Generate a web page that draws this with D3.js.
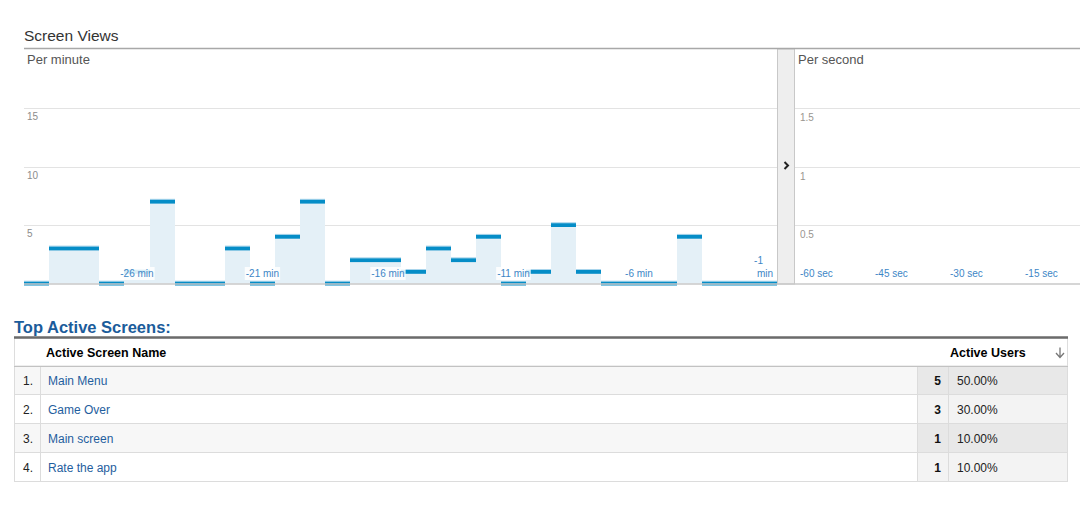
<!DOCTYPE html>
<html><head><meta charset="utf-8">
<script src="https://cdn.jsdelivr.net/npm/d3@7"></script>
<style>
body{margin:0;background:#fff}
svg{display:block;font-family:"Liberation Sans",Arial,Helvetica,sans-serif}
</style>
</head><body>
<svg id="c" width="1080" height="512"></svg>
<script>
// ---------- data ----------
const minuteLabels = ["-30 min","-29 min","-28 min","-27 min","-26 min","-25 min","-24 min","-23 min","-22 min","-21 min",
  "-20 min","-19 min","-18 min","-17 min","-16 min","-15 min","-14 min","-13 min","-12 min","-11 min",
  "-10 min","-9 min","-8 min","-7 min","-6 min","-5 min","-4 min","-3 min","-2 min","-1 min"];
const minuteValues = [0,3,3,0,1,7,0,0,3,0,4,7,0,2,2,1,3,2,4,0,1,5,1,0,0,0,4,0,0,0];
const minuteTickLabels = ["-26 min","-21 min","-16 min","-11 min","-6 min"];
const minuteLastLabel = "-1 min";
const minuteYTicks = [5,10,15];
const secondYTicks = [0.5,1,1.5];
const secondTickValues = [-60,-45,-30,-15];
const secondTickLabels = ["-60 sec","-45 sec","-30 sec","-15 sec"];
const screenNames = ["Main Menu","Game Over","Main screen","Rate the app"];
const activeUsers = [5,3,1,1];

// ---------- drawing ----------
const svg = d3.select("#c");
const BLUE = "#058dc7", FILL = "#e4f0f7", AXISBLUE = "#3d86c6";

svg.append("text").attr("x",24).attr("y",41).attr("fill","#333")
  .style("font-size","15.5px").text("Screen Views");

// per-minute panel
const x = d3.scaleBand().domain(minuteLabels).range([24,777]).padding(0);
const y = d3.scaleLinear().domain([0,15]).range([283.5,108]);
const bw = x.bandwidth();
const bx = d => Math.round(x(d));
const bW = d => Math.round(x(d)+bw) - Math.round(x(d));

svg.append("text").attr("x",27).attr("y",64).attr("fill","#555")
  .style("font-size","13px").text("Per minute");

const gM = svg.append("g");
gM.selectAll("line.grid").data(minuteYTicks).join("line")
  .attr("x1",24).attr("x2",777)
  .attr("y1",d=>Math.round(y(d))+0.5).attr("y2",d=>Math.round(y(d))+0.5)
  .attr("stroke","#e3e3e3");
gM.selectAll("text.yl").data(minuteYTicks).join("text")
  .attr("x",27).attr("y",d=>y(d)+12).attr("fill","#8c8c8c")
  .style("font-size","10px").text(d=>d);

const fills = gM.append("g"), caps = gM.append("g");
fills.selectAll("rect").data(minuteValues).join("rect")
  .attr("x",(d,i)=>bx(minuteLabels[i])).attr("width",(d,i)=>bW(minuteLabels[i]))
  .attr("y",d=>y(d)).attr("height",d=>y(0)-y(d)).attr("fill",FILL);
caps.selectAll("rect.hl").data(minuteValues).join("rect").attr("class","hl")
  .attr("x",(d,i)=>bx(minuteLabels[i])).attr("width",(d,i)=>bW(minuteLabels[i]))
  .attr("y",d=>y(d)-2.8).attr("height",1).attr("fill","#a9d5ec");
caps.selectAll("rect.cap").data(minuteValues).join("rect").attr("class","cap")
  .attr("x",(d,i)=>bx(minuteLabels[i])).attr("width",(d,i)=>bW(minuteLabels[i]))
  .attr("y",d=>y(d)-1.8).attr("height",3.8).attr("fill",BLUE);

// x labels with white backing
const xl = gM.selectAll("g.xl").data(minuteTickLabels).join("g")
  .attr("transform",d=>`translate(${x(d)+bw/2},277)`);
xl.append("rect").attr("x",-17).attr("y",-10).attr("height",13)
  .attr("width",34).attr("fill","#fff").attr("opacity",0.85);
xl.append("text").attr("text-anchor","middle").attr("fill",AXISBLUE)
  .style("font-size","10px").text(d=>d);
xl.each(function(){
  const g=d3.select(this), t=g.select("text").node().getBBox();
  g.select("rect").attr("x",t.x-1).attr("width",t.width+2);
});
const last = x(minuteLastLabel)+bw;
const parts = minuteLastLabel.split(" ");
gM.append("text").attr("x",last-14).attr("y",264).attr("text-anchor","end")
  .attr("fill",AXISBLUE).style("font-size","10px").text(parts[0]);
gM.append("text").attr("x",last-4).attr("y",277).attr("text-anchor","end")
  .attr("fill",AXISBLUE).style("font-size","10px").text(parts[1]);

// divider panel
svg.append("rect").attr("x",777.5).attr("y",49).attr("width",17).attr("height",235)
  .attr("fill","#eeeeee").attr("stroke","#c8c8c8");
svg.append("path").attr("d","M784.5,162 L788,165.5 L784.5,169")
  .attr("fill","none").attr("stroke","#222").attr("stroke-width",2);

// per-second panel
const xs = d3.scaleLinear().domain([-60,0]).range([800,1100]);
const ys = d3.scaleLinear().domain([0,1.5]).range([283.5,108]);
svg.append("text").attr("x",798).attr("y",64).attr("fill","#555")
  .style("font-size","13px").text("Per second");
const gS = svg.append("g");
gS.selectAll("line").data(secondYTicks).join("line")
  .attr("x1",795).attr("x2",1080)
  .attr("y1",d=>Math.round(ys(d))+0.5).attr("y2",d=>Math.round(ys(d))+0.5)
  .attr("stroke","#e3e3e3");
gS.selectAll("text.yl").data(secondYTicks).join("text")
  .attr("x",800).attr("y",d=>ys(d)+13).attr("fill","#9a9590")
  .style("font-size","10px").text(d=>d);
gS.selectAll("text.xl").data(secondTickValues).join("text")
  .attr("x",d=>xs(d)).attr("y",277).attr("fill",AXISBLUE)
  .style("font-size","10px").text((d,i)=>secondTickLabels[i]);

// top and bottom rules
svg.append("line").attr("x1",24).attr("x2",1080).attr("y1",48.5).attr("y2",48.5)
  .attr("stroke","#a8a8a8").attr("stroke-width",1.5);
svg.append("line").attr("x1",24).attr("x2",1080).attr("y1",284).attr("y2",284)
  .attr("stroke","#c9c9c9").attr("stroke-width",1.5);

// ---------- table ----------
const total = d3.sum(activeUsers);
svg.append("text").attr("x",14).attr("y",333).attr("fill","#1b5c9b")
  .style("font-size","16.5px").style("font-weight","bold").text("Top Active Screens:");

const T = {left:14, right:1068, top:338, head:28, row:29, numCol:40, valCol:917, pctCol:948};
svg.append("rect").attr("x",T.left+0.5).attr("y",T.top).attr("width",T.right-T.left-1)
  .attr("height",T.head).attr("fill","#fff").attr("stroke","#ddd");
svg.append("text").attr("x",46).attr("y",357).style("font-size","12.5px")
  .style("font-weight","bold").attr("fill","#000").text("Active Screen Name");
svg.append("text").attr("x",950).attr("y",357).style("font-size","12.5px")
  .style("font-weight","bold").attr("fill","#000").text("Active Users");
svg.append("path").attr("d","M1060,347.5 V357 M1056,353 L1060,357.5 L1064,353")
  .attr("fill","none").attr("stroke","#777").attr("stroke-width",1.3);

const rows = svg.selectAll("g.row").data(screenNames).join("g")
  .attr("transform",(d,i)=>`translate(0,${T.top+T.head+i*T.row})`);
rows.append("rect").attr("x",T.left).attr("width",T.valCol-T.left).attr("height",T.row)
  .attr("fill",(d,i)=>i%2===0?"#f7f7f7":"#fff");
rows.append("rect").attr("x",T.valCol).attr("width",T.right-T.valCol).attr("height",T.row)
  .attr("fill",(d,i)=>i%2===0?"#e8e8e8":"#f3f3f3");
rows.append("line").attr("x1",T.left).attr("x2",T.right).attr("y1",T.row-0.5).attr("y2",T.row-0.5)
  .attr("stroke","#dcdcdc");
[T.left+0.5, T.numCol+0.5, T.valCol+0.5, T.pctCol+0.5, T.right-0.5].forEach(xx=>{
  rows.append("line").attr("x1",xx).attr("x2",xx).attr("y1",0).attr("y2",T.row)
    .attr("stroke","#dcdcdc");
});
rows.append("text").attr("x",33).attr("y",19).attr("text-anchor","end")
  .style("font-size","12px").attr("fill","#222").text((d,i)=>(i+1)+".");
rows.append("text").attr("x",48).attr("y",19)
  .style("font-size","12px").attr("fill","#1f5e9e").text(d=>d);
rows.append("text").attr("x",941).attr("y",19).attr("text-anchor","end")
  .style("font-size","12px").style("font-weight","bold").attr("fill","#111")
  .text((d,i)=>activeUsers[i]);
rows.append("text").attr("x",957).attr("y",19)
  .style("font-size","12px").attr("fill","#222")
  .text((d,i)=>(activeUsers[i]/total*100).toFixed(2)+"%");

// header borders
svg.append("line").attr("x1",T.left).attr("x2",T.right).attr("y1",T.top+T.head+0.5).attr("y2",T.top+T.head+0.5)
  .attr("stroke","#c2c2c2");
svg.append("line").attr("x1",T.left).attr("x2",T.right).attr("y1",T.top-0.5).attr("y2",T.top-0.5)
  .attr("stroke","#6b6b6b").attr("stroke-width",2.5);
</script>
</body></html>
